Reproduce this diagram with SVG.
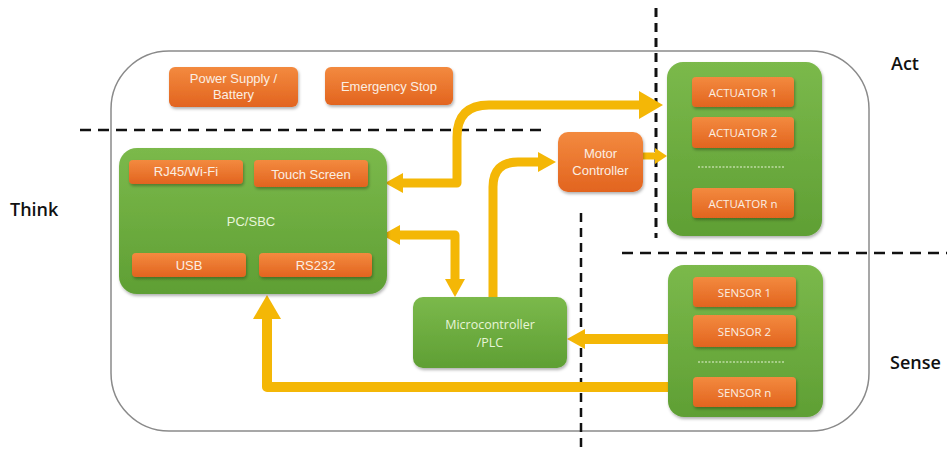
<svg xmlns="http://www.w3.org/2000/svg" width="947" height="452" viewBox="0 0 947 452">
<defs>
<linearGradient id="gGreen" x1="0" y1="0" x2="0" y2="1"><stop offset="0" stop-color="#7bb94b"/><stop offset="1" stop-color="#5f9f34"/></linearGradient>
<linearGradient id="gOrange" x1="0" y1="0" x2="0" y2="1"><stop offset="0" stop-color="#f38a3f"/><stop offset="1" stop-color="#e2641f"/></linearGradient>
<filter id="sh" x="-10%" y="-10%" width="125%" height="130%"><feDropShadow dx="1" dy="2" stdDeviation="1.5" flood-color="#000" flood-opacity="0.3"/></filter>
<marker id="hL" viewBox="0 0 24 28" refX="0" refY="14" markerWidth="24" markerHeight="28" markerUnits="userSpaceOnUse" orient="auto-start-reverse"><path d="M0,0 L24,14 L0,28 Z" fill="#f4b706"/></marker>
<marker id="hM" viewBox="0 0 18 20" refX="0" refY="10" markerWidth="18" markerHeight="20" markerUnits="userSpaceOnUse" orient="auto-start-reverse"><path d="M0,0 L18,10 L0,20 Z" fill="#f4b706"/></marker>
<marker id="hS" viewBox="0 0 12 16" refX="0" refY="8" markerWidth="12" markerHeight="16" markerUnits="userSpaceOnUse" orient="auto-start-reverse"><path d="M0,0 L12,8 L0,16 Z" fill="#f4b706"/></marker>
</defs>
<style>
.grn{fill:url(#gGreen);filter:url(#sh)}
.org{fill:url(#gOrange);filter:url(#sh)}
.t{font-family:"Liberation Sans",Arial,sans-serif;font-size:13px;fill:#fbeee2;text-anchor:middle}
.ta{font-family:"Open Sans","Liberation Sans",sans-serif;font-size:11.5px;fill:#fbeee2;text-anchor:middle}
.tg{font-family:"Open Sans","Liberation Sans",sans-serif;font-size:12.5px;fill:#e8f5d8;text-anchor:middle}
.lbl{font-family:"Open Sans","Liberation Sans",sans-serif;font-size:18px;font-weight:600;fill:#111}
.dash{stroke:#111;stroke-width:2.5;fill:none;stroke-dasharray:11 7}
.arr{stroke:#f4b706;stroke-width:10;fill:none;stroke-linejoin:round}
.dots{stroke:#e8f5d8;stroke-width:1;stroke-dasharray:2 1.5}
</style>

<rect x="111" y="51" width="758" height="380" rx="58" fill="#fff" stroke="#8a8a8a" stroke-width="1.5"/>

<g id="dividers">
<line class="dash" x1="80" y1="130" x2="545" y2="130"/>
<line class="dash" x1="656" y1="8" x2="656" y2="238" style="stroke-dasharray:9 6;stroke-width:3"/>
<line class="dash" x1="622" y1="253" x2="947" y2="253"/>
<line class="dash" x1="581" y1="213" x2="581" y2="452" style="stroke-dasharray:9 6"/>
</g>

<g id="zone-labels">
<text class="lbl" x="891" y="70">Act</text>
<text class="lbl" x="10" y="216">Think</text>
<text class="lbl" x="890" y="369">Sense</text>
</g>

<g id="connectors">
<path class="arr" d="M403,183 H457 V137 Q457,105 489,105 H639" marker-start="url(#hM)" marker-end="url(#hL)" style="stroke-width:9"/>
<path class="arr" d="M400,235 H455 V279" marker-start="url(#hM)" marker-end="url(#hM)" style="stroke-width:9"/>
<path class="arr" d="M493,297 V187 Q493,162 518,162 H538" marker-end="url(#hM)" style="stroke-width:9"/>
<path class="arr" d="M643,156 H655" marker-end="url(#hS)" style="stroke-width:7"/>
<path class="arr" d="M668,339 H585" marker-end="url(#hM)"/>
<path class="arr" d="M668,387 H267 V319" marker-end="url(#hL)"/>
</g>

<g id="power-supply">
<rect class="org" x="169" y="67" width="129" height="40" rx="6"/>
<text class="t" x="233.5" y="83">Power Supply /</text>
<text class="t" x="233.5" y="99">Battery</text>
</g>
<g id="emergency-stop">
<rect class="org" x="325" y="67" width="128" height="38" rx="6"/>
<text class="t" x="389" y="91">Emergency Stop</text>
</g>

<g id="pc-sbc">
<rect class="grn" x="119" y="148" width="268" height="146" rx="18"/>
<text class="t" x="251" y="226" style="fill:#e8f5d8">PC/SBC</text>
<rect class="org" x="129" y="160" width="114" height="24" rx="4"/>
<text class="t" x="186" y="176">RJ45/Wi-Fi</text>
<rect class="org" x="254" y="160" width="114" height="27" rx="4"/>
<text class="t" x="311" y="179">Touch Screen</text>
<rect class="org" x="132" y="253" width="114" height="24" rx="4"/>
<text class="t" x="189" y="270">USB</text>
<rect class="org" x="259" y="253" width="113" height="24" rx="4"/>
<text class="t" x="315.5" y="270">RS232</text>
</g>

<g id="motor-controller">
<rect class="org" x="558" y="132" width="85" height="60" rx="10"/>
<text class="t" x="600.5" y="158">Motor</text>
<text class="t" x="600.5" y="175">Controller</text>
</g>

<g id="microcontroller">
<rect class="grn" x="413" y="297" width="154" height="71" rx="10"/>
<text class="tg" x="490" y="329">Microcontroller</text>
<text class="tg" x="490" y="347">/PLC</text>
</g>

<g id="actuators">
<rect class="grn" x="667" y="62" width="155" height="174" rx="16"/>
<rect class="org" x="692" y="77" width="102" height="30" rx="4"/>
<text class="ta" x="743" y="97">ACTUATOR 1</text>
<rect class="org" x="692" y="117" width="102" height="31" rx="4"/>
<text class="ta" x="743" y="137">ACTUATOR 2</text>
<line class="dots" x1="698" y1="167" x2="785" y2="167"/>
<rect class="org" x="692" y="188" width="102" height="30" rx="4"/>
<text class="ta" x="743" y="208">ACTUATOR n</text>
</g>

<g id="sensors">
<rect class="grn" x="668" y="265" width="155" height="152" rx="16"/>
<rect class="org" x="693" y="277" width="103" height="30" rx="4"/>
<text class="ta" x="744.5" y="297">SENSOR 1</text>
<rect class="org" x="693" y="315" width="103" height="32" rx="4"/>
<text class="ta" x="744.5" y="336">SENSOR 2</text>
<line class="dots" x1="698" y1="362" x2="784" y2="362"/>
<rect class="org" x="693" y="377" width="103" height="30" rx="4"/>
<text class="ta" x="744.5" y="397">SENSOR n</text>
</g>
</svg>
